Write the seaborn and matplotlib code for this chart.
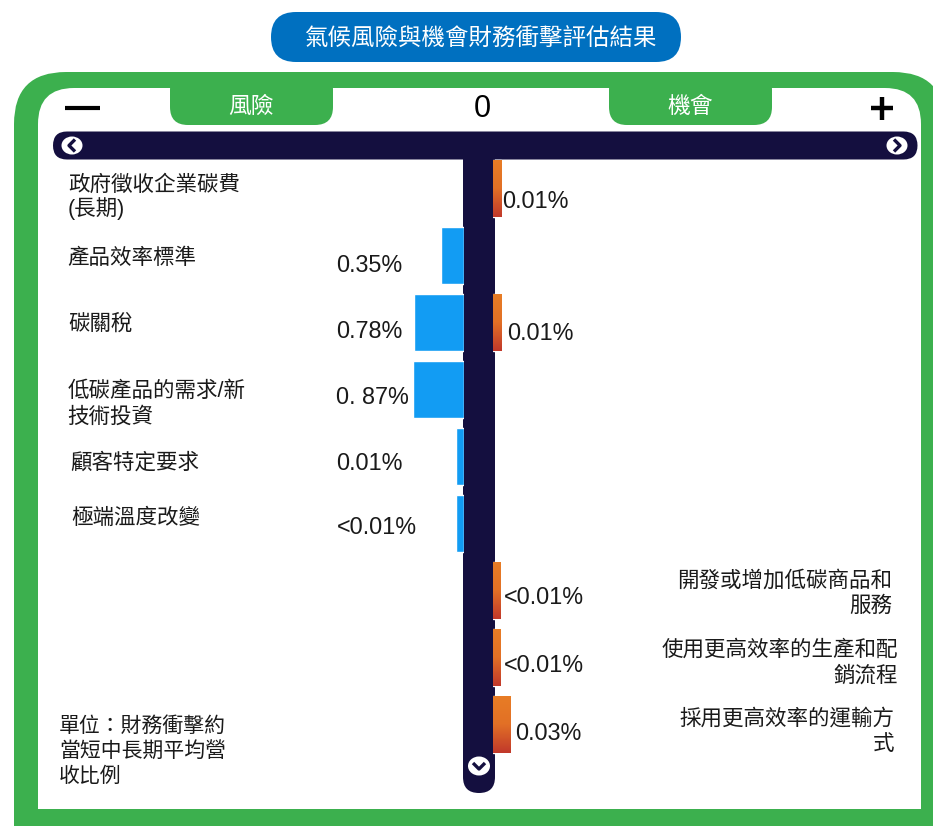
import numpy as np
import pandas as pd
import matplotlib
matplotlib.use("Agg")
import matplotlib.pyplot as plt
from matplotlib.patches import FancyBboxPatch, Ellipse, Rectangle
from matplotlib.colors import LinearSegmentedColormap
import seaborn as sns

# ---------- data ----------
title = "氣候風險與機會財務衝擊評估結果"
risk_header = "風險"
opp_header = "機會"
unit_note = "單位：財務衝擊約\n當短中長期平均營\n收比例"
categories = ["政府徵收企業碳費(長期)", "產品效率標準", "碳關稅", "低碳產品的需求/新技術投資",
              "顧客特定要求", "極端溫度改變", "開發或增加低碳商品和服務",
              "使用更高效率的生產和配銷流程", "採用更高效率的運輸方式"]
# drawn bar lengths (the original bars are not strictly to scale with their labels)
risk_lengths = [np.nan, 0.36, 0.80, 0.82, 0.115, 0.115, np.nan, np.nan, np.nan]
opp_lengths = [0.0135, np.nan, 0.0135, np.nan, np.nan, np.nan, 0.012, 0.012, 0.030]
risk_labels = ["0.35%", "0.78%", "0. 87%", "0.01%", "<0.01%"]
opp_labels = ["0.01%", "0.01%", "<0.01%", "<0.01%", "0.03%"]
left_names = ["政府徵收企業碳費\n(長期)", "產品效率標準", "碳關稅", "低碳產品的需求/新\n技術投資",
              "顧客特定要求", "極端溫度改變"]
right_names = ["開發或增加低碳商品和\n服務", "使用更高效率的生產和配\n銷流程", "採用更高效率的運輸方\n式"]

# ---------- style ----------
GREEN = "#3CB04E"
BLUE = "#0070C0"
NAVY = "#140F3F"
BAR_BLUE = "#129CF3"
W, H = 933, 826
FONT = ["Liberation Sans", "Noto Sans CJK TC", "DejaVu Sans"]

sns.set_theme(style="white")
plt.rcParams["font.family"] = FONT
fig = plt.figure(figsize=(W / 100, H / 100), dpi=100, facecolor="white")

bg = fig.add_axes([0, 0, 1, 1], zorder=0)
bg.set_xlim(0, W)
bg.set_ylim(H, 0)
bg.axis("off")


def rbox(x0, y0, x1, y1, r, color, z=1):
    bg.add_patch(FancyBboxPatch((x0 + r, y0 + r), x1 - x0 - 2 * r, y1 - y0 - 2 * r,
                                boxstyle=f"round,pad={r},rounding_size={r}",
                                fc=color, ec="none", zorder=z))


rbox(271, 12, 681, 62, 25, BLUE)
rbox(14, 72, 945, 900, 52, GREEN)
rbox(38, 88, 921, 870, 36, "white", 2)
bg.add_patch(Rectangle((14, 809), W, 30, fc=GREEN, ec="none", zorder=3))
rbox(170, 72, 333, 125, 18, GREEN, 4)
rbox(609, 72, 772, 125, 18, GREEN, 4)
rbox(53, 131.5, 917.5, 159.5, 14, NAVY, 5)
rbox(463, 140, 495, 793, 16, NAVY, 5)


def chevron(cx, cy, dx, dy):
    # white ellipse button with a small navy chevron
    w, h = (22, 19) if dy else (21, 18)
    bg.add_patch(Ellipse((cx, cy), w, h, fc="white", ec="none", zorder=6))
    if dx:
        xs, ys = [cx - 3 * dx, cx + 3 * dx, cx - 3 * dx], [cy - 6, cy, cy + 6]
    else:
        xs, ys = [cx - 6, cx, cx + 6], [cy - 3, cy + 3, cy - 3]
    bg.plot(xs, ys, color=NAVY, lw=2.4, zorder=7, solid_capstyle="butt")


chevron(72, 145.5, -1, 0)
chevron(897, 145.5, 1, 0)
chevron(479, 766, 0, 1)


def txt(x, y, s, size, color="#1a1a1a", ha="left", ls=1.0, **kw):
    bg.text(x, y, s, fontsize=size, color=color, ha=ha, va="center",
            family=FONT, linespacing=ls, zorder=8, **kw)


txt(480, 38, title, 16.9, "white", "center", weight="light")
txt(251, 106, risk_header, 16.4, "white", "center", weight="light")
txt(690, 106, opp_header, 16.4, "white", "center", weight="light")
txt(482, 109, "0", 22, "black", "center")
bg.plot([65, 100], [108, 108], color="black", lw=3, solid_capstyle="butt", zorder=8)
bg.plot([871, 893], [108, 108], color="black", lw=3.2, solid_capstyle="butt", zorder=8)
bg.plot([882, 882], [97, 120], color="black", lw=3.2, solid_capstyle="butt", zorder=8)

for (x, y, ls), s in zip([(68, 197.5, 1.1), (67, 258, 1.3), (68, 324, 1.3), (67.5, 404, 1.3),
                          (70, 463, 1.3), (71, 518, 1.3)], left_names):
    txt(x, y, s, 15.5, ls=ls)
for (x, y), s in zip([(892, 594), (898, 663), (894, 732)], right_names):
    txt(x, y, s, 15.5, ha="right", ls=1.3)
txt(59, 751, unit_note, 15, ls=1.32)

for (x, y), s in zip([(336.5, 266), (336.5, 332), (336.5, 398), (336.5, 463), (337, 527)], risk_labels):
    txt(x, y, s, 16.8)
for (x, y), s in zip([(502.5, 201), (507, 333), (504, 597), (504, 665), (515, 733)], opp_labels):
    txt(x, y, s, 16.8)

# ---------- bars through seaborn ----------
df = pd.DataFrame({"cat": categories, "risk": risk_lengths, "opp": opp_lengths})


def bar_axes(x0, x1):
    # rows are 67 px apart, first row centred at y = 188.5
    top, bottom = 188.5 - 33.5, 188.5 + 8.5 * 67
    return fig.add_axes([x0 / W, 1 - bottom / H, (x1 - x0) / W, (bottom - top) / H],
                        zorder=2, facecolor="none")


ax_r = bar_axes(363.0, 463.5)
sns.barplot(data=df, y="cat", x="risk", order=categories, orient="h", ax=ax_r,
            color=BAR_BLUE, saturation=1, width=0.86, dodge=False)
ax_r.set_xlim(100.5 / 62, 0)

ax_o = bar_axes(493.0, 613.0)
sns.barplot(data=df, y="cat", x="opp", order=categories, orient="h", ax=ax_o,
            color="#E87D25", saturation=1, width=0.86, dodge=False)
ax_o.set_xlim(0, 120 / 600)

cmap = LinearSegmentedColormap.from_list("bar", ["#E87D25", "#E27026", "#C1392B"])
grad = np.linspace(0, 1, 64).reshape(-1, 1)
xl, yl = ax_o.get_xlim(), ax_o.get_ylim()
for p in list(ax_o.patches):
    w = p.get_width()
    if not np.isfinite(w) or w <= 0:
        continue
    y0, h = p.get_y(), p.get_height()
    im = ax_o.imshow(grad, cmap=cmap, aspect="auto", origin="upper",
                     extent=[0, w, y0 + h, y0], zorder=3)
    im.set_clip_path(p)
ax_o.set_xlim(xl)
ax_o.set_ylim(yl)

for a in (ax_r, ax_o):
    a.set_axis_off()

fig.savefig("out.png", dpi=100, facecolor="white")
